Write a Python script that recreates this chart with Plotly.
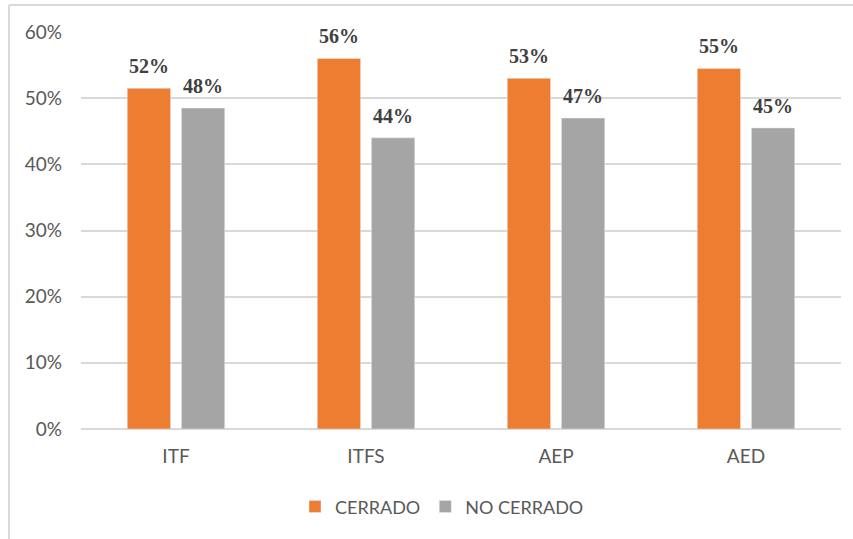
import plotly.graph_objects as go

categories = ["ITF", "ITFS", "AEP", "AED"]
cerrado = [51.5, 56.0, 53.0, 54.5]
no_cerrado = [48.5, 44.0, 47.0, 45.5]
cerrado_labels = ["52%", "56%", "53%", "55%"]
no_cerrado_labels = ["48%", "44%", "47%", "45%"]
series_names = ["CERRADO", "NO CERRADO"]
y_ticks = [0, 10, 20, 30, 40, 50, 60]
y_tick_labels = ["0%", "10%", "20%", "30%", "40%", "50%", "60%"]

ORANGE = "#ED7D31"
GRAY = "#A5A5A5"
TICK_FONT = dict(family="Lato, Open Sans, sans-serif", size=19, color="#595959")
LEGEND_FONT = dict(family="Lato, Open Sans, sans-serif", size=18, color="#595959")
LABEL_FONT = dict(family="Liberation Serif, Times New Roman, serif", size=20, color="#404040")

fig = go.Figure()
fig.add_trace(go.Bar(x=categories, y=cerrado, name=series_names[0], marker_color=ORANGE))
fig.add_trace(go.Bar(x=categories, y=no_cerrado, name=series_names[1], marker_color=GRAY))

annotations = []
for cat, v, lab in zip(categories, cerrado, cerrado_labels):
    annotations.append(dict(x=cat, y=v, text="<b>" + lab + "</b>", xref="x", yref="y", showarrow=False,
                            xshift=-27, yshift=22, yanchor="middle", font=LABEL_FONT))
for cat, v, lab in zip(categories, no_cerrado, no_cerrado_labels):
    annotations.append(dict(x=cat, y=v, text="<b>" + lab + "</b>", xref="x", yref="y", showarrow=False,
                            xshift=27, yshift=22, yanchor="middle", font=LABEL_FONT))

fig.update_layout(
    width=853, height=539,
    margin=dict(l=81, r=12, t=32, b=110),
    paper_bgcolor="white", plot_bgcolor="white",
    barmode="group", bargap=0.43, bargroupgap=0.2,
    annotations=annotations,
    showlegend=True,
    legend=dict(orientation="h", x=0.475, xanchor="center", y=-0.196, yanchor="middle",
                font=LEGEND_FONT, itemwidth=30, traceorder="normal"),
    xaxis=dict(tickfont=TICK_FONT, showgrid=False, showline=False, ticks="",
               ticklabelstandoff=14),
    yaxis=dict(range=[0, 60], tickvals=y_ticks, ticktext=y_tick_labels, tickfont=TICK_FONT,
               showgrid=True, gridcolor="#D9D9D9", gridwidth=1.5, zeroline=True,
               zerolinecolor="#D9D9D9", zerolinewidth=2, ticks="", showline=False,
               ticklabelstandoff=18),
    shapes=[
        dict(type="line", xref="paper", yref="paper", x0=-0.0947, x1=1.03, y0=1.068, y1=1.068,
             line=dict(color="#D9D9D9", width=2)),
        dict(type="line", xref="paper", yref="paper", x0=-0.0947, x1=-0.0947, y0=1.068, y1=-0.28,
             line=dict(color="#D9D9D9", width=2)),
    ],
)

fig.write_html("out.html", post_script="document.body.style.margin='0';",
               config={"displayModeBar": False})
